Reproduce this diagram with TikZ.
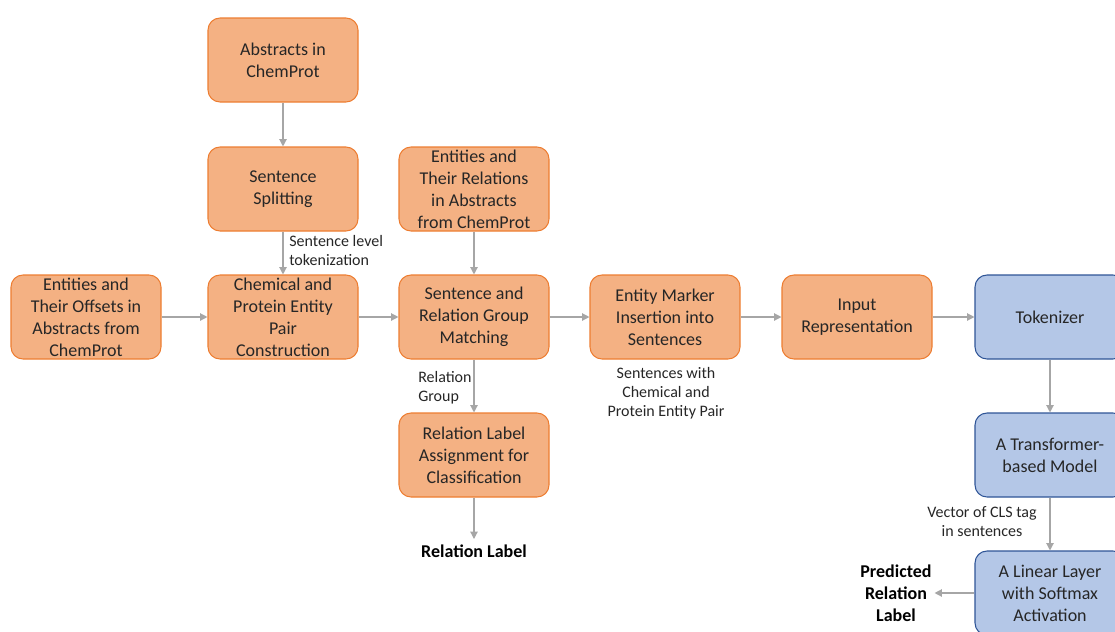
\documentclass[tikz,border=0pt]{standalone}
\usepackage{fontspec}
\setmainfont{Carlito}
\usetikzlibrary{arrows.meta}
\definecolor{boxorange}{HTML}{F4B183}
\definecolor{edgeorange}{HTML}{ED7D31}
\definecolor{boxblue}{HTML}{B4C7E7}
\definecolor{edgeblue}{HTML}{2F5597}
\definecolor{linkgray}{HTML}{A6A6A6}
\definecolor{inkgray}{HTML}{262626}

\begin{document}
\begin{tikzpicture}[x=0.75pt,y=-0.75pt,
  stage/.style={draw=edgeorange,fill=boxorange,rounded corners=9pt,line width=0.8pt,
    minimum width=112.5pt,minimum height=63pt,inner xsep=2pt,inner ysep=0pt,
    align=center,text=inkgray,font=\fontsize{13.5}{16.5}\selectfont},
  model/.style={stage,draw=edgeblue,fill=boxblue},
  link/.style={draw=linkgray,line width=0.9pt,-{Triangle[length=5.5pt,width=5.5pt]}},
  note/.style={inner sep=0pt,text=inkgray,font=\fontsize{12}{14.25}\selectfont},
  result/.style={inner sep=2pt,align=center,font=\bfseries\fontsize{13.5}{16.5}\selectfont}]
  \useasboundingbox (0,0) rectangle (1115,632);

  %% data preparation (orange)
  \node[stage] (abs) at (283,60) {Abstracts in\\ChemProt};
  \node[stage] (split) at (283,189) {Sentence\\Splitting};
  \node[stage] (rels) at (474,189) {Entities and\\Their Relations\\in Abstracts\\from ChemProt};
  \node[stage] (offs) at (86,317) {Entities and\\Their Offsets in\\Abstracts from\\ChemProt};
  \node[stage] (pair) at (283,317) {Chemical and\\Protein Entity\\Pair\\Construction};
  \node[stage] (match) at (474,317) {Sentence and\\Relation Group\\Matching};
  \node[stage] (assign) at (474,455) {Relation Label\\Assignment for\\Classification};
  \node[stage] (marker) at (665,317) {Entity Marker\\Insertion into\\Sentences};
  \node[stage] (input) at (857,317) {Input\\Representation};

  %% model (blue)
  \node[model] (tok) at (1050,317) {Tokenizer};
  \node[model] (trans) at (1050,455) {A Transformer-\\based Model};
  \node[model] (lin) at (1050,593) {A Linear Layer\\with Softmax\\Activation};

  %% outputs
  \node[result] (rlabel) at (474,551) {Relation Label};
  \node[result] (plabel) at (896,593) {Predicted\\Relation\\Label};

  %% connectors
  \draw[link] (abs) -- (split);
  \draw[link] (split) -- (pair);
  \draw[link] (rels) -- (match);
  \draw[link] (offs) -- (pair);
  \draw[link] (pair) -- (match);
  \draw[link] (match) -- (marker);
  \draw[link] (marker) -- (input);
  \draw[link] (input) -- (tok);
  \draw[link] (match) -- (assign);
  \draw[link,shorten >=2pt] (assign) -- (rlabel);
  \draw[link] (tok) -- (trans);
  \draw[link] (trans) -- (lin);
  \draw[link] (lin) -- (plabel);

  %% labels on connectors
  \node[note,anchor=west,align=left] (tokz) at (289,251) {Sentence level\\tokenization};
  \node[note,anchor=west,align=left] (grp) at (418,388) {Relation\\Group};
  \node[note,align=center] (sents) at (666,393) {Sentences with\\Chemical and\\Protein Entity Pair};
  \node[note,align=center] (cls) at (982,522) {Vector of CLS tag\\in sentences};
\end{tikzpicture}
\end{document}
